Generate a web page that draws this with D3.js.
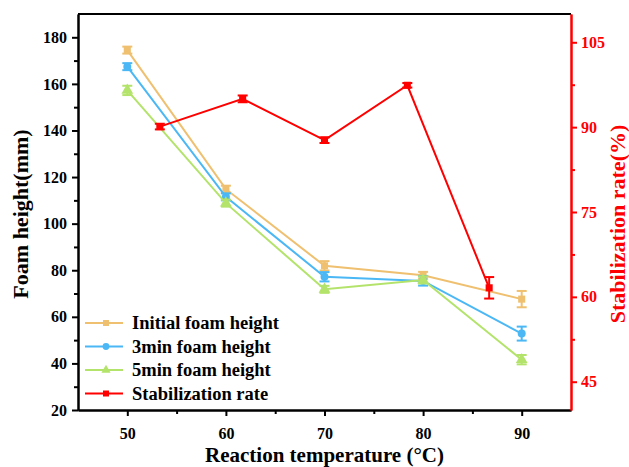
<!DOCTYPE html>
<html>
<head>
<meta charset="utf-8">
<script src="https://cdn.jsdelivr.net/npm/d3@7"></script>
<style>
  body { margin: 0; background: #fff; }
  svg text { font-family: "Liberation Serif", "Times New Roman", serif !important; font-weight: bold; }
</style>
</head>
<body>
<div class="chart"></div>
<script>
// data
const temps = [50, 60, 70, 80, 90];
const initialH = [174.5, 114.8, 81.9, 77.8, 67.6];
const initialErr = [1.5, 1.5, 2, 1.5, 3.5];
const min3H = [167.4, 111.5, 77.2, 75.4, 52.8];
const min3Err = [1.5, 1.5, 2, 2, 3];
const min5H = [157.2, 108.8, 71.8, 75.8, 41.6];
const min5Err = [2, 1.5, 1.5, 1.5, 2];
const stabX = [53.3, 61.7, 70, 78.4, 86.7];
const stabRate = [90.1, 95.0, 87.7, 97.4, 61.6];
const stabErr = [0.5, 0.6, 0.5, 0.4, 1.9];
const leftTicks = [20, 40, 60, 80, 100, 120, 140, 160, 180];
const rightTicks = [45, 60, 75, 90, 105];

const W = 629, H = 467;
const margin = {top: 14, right: 58, bottom: 57, left: 78};
const width = W - margin.left - margin.right,
      height = H - margin.top - margin.bottom;

const svg = d3.select(".chart").append("svg")
    .attr("width", W).attr("height", H)
    .attr("font-family", "Liberation Serif, serif");
const g = svg.append("g")
    .attr("transform", `translate(${margin.left},${margin.top})`);

const xScale = d3.scaleLinear().domain([45, 95]).range([0, width]);
const yScale = d3.scaleLinear().domain([20, 190]).range([height, 0]);
const y2Scale = d3.scaleLinear().domain([40, 110]).range([height, 0]);

const series = [
  {name: "Initial foam height", x: temps, y: initialH, err: initialErr, color: "#EFC070", shape: d3.symbolSquare, scale: yScale},
  {name: "3min foam height", x: temps, y: min3H, err: min3Err, color: "#4BB8F5", shape: d3.symbolCircle, scale: yScale},
  {name: "5min foam height", x: temps, y: min5H, err: min5Err, color: "#B3E36A", shape: d3.symbolTriangle, scale: yScale},
  {name: "Stabilization rate", x: stabX, y: stabRate, err: stabErr, color: "#FF0000", shape: d3.symbolSquare, scale: y2Scale}
];

// axes
const xAxis = d3.axisBottom(xScale).tickValues(temps).tickSize(6).tickSizeOuter(0);
const xMinor = d3.axisBottom(xScale).tickValues([55, 65, 75, 85]).tickSize(4).tickFormat("").tickSizeOuter(0);
const yAxis = d3.axisLeft(yScale).tickValues(leftTicks).tickSize(6).tickSizeOuter(0);
const yMinor = d3.axisLeft(yScale).tickValues(d3.range(30, 190, 20)).tickSize(4).tickFormat("").tickSizeOuter(0);
const y2Axis = d3.axisRight(y2Scale).tickValues(rightTicks).tickSize(6).tickSizeOuter(0);
const y2Minor = d3.axisRight(y2Scale).tickValues([52.5, 67.5, 82.5, 97.5]).tickSize(4).tickFormat("").tickSizeOuter(0);

function styleAxis(sel, color) {
  sel.attr("font-family", "Liberation Serif, serif").attr("font-size", 16);
  sel.select(".domain").attr("stroke", color).attr("stroke-width", 2);
  sel.selectAll(".tick line").attr("stroke", color).attr("stroke-width", 2);
  sel.selectAll(".tick text").attr("fill", color).attr("font-size", 16);
}

g.append("line").attr("x1", 0).attr("x2", width).attr("y1", 0).attr("y2", 0)
  .attr("stroke", "#000").attr("stroke-width", 2);

g.append("g").attr("transform", `translate(0,${height})`).call(xMinor).call(s => styleAxis(s, "#000"));
g.append("g").attr("transform", `translate(0,${height})`).call(xAxis).call(s => styleAxis(s, "#000"))
  .selectAll(".tick text").attr("dy", "1.25em");
g.append("g").call(yMinor).call(s => styleAxis(s, "#000"));
g.append("g").call(yAxis).call(s => styleAxis(s, "#000"))
  .selectAll(".tick text").attr("x", -11);
g.append("g").attr("transform", `translate(${width},0)`).call(y2Minor).call(s => styleAxis(s, "#FF0000"));
g.append("g").attr("transform", `translate(${width},0)`).call(y2Axis).call(s => styleAxis(s, "#FF0000"))
  .selectAll(".tick text").attr("x", 10);

// series
series.forEach(s => {
  const pts = s.x.map((x, i) => ({x, y: s.y[i], e: s.err[i]}));
  const sg = g.append("g");
  sg.append("path").datum(pts)
    .attr("fill", "none").attr("stroke", s.color).attr("stroke-width", 2)
    .attr("d", d3.line().x(d => xScale(d.x)).y(d => s.scale(d.y)));
  const eb = sg.selectAll(".eb").data(pts).enter().append("g")
    .attr("stroke", s.color).attr("stroke-width", 2);
  eb.append("line")
    .attr("x1", d => xScale(d.x)).attr("x2", d => xScale(d.x))
    .attr("y1", d => s.scale(d.y - d.e)).attr("y2", d => s.scale(d.y + d.e));
  [1, -1].forEach(sign => {
    eb.append("line")
      .attr("x1", d => xScale(d.x) - 5).attr("x2", d => xScale(d.x) + 5)
      .attr("y1", d => s.scale(d.y + sign * d.e)).attr("y2", d => s.scale(d.y + sign * d.e));
  });
  sg.selectAll(".pt").data(pts).enter().append("path")
    .attr("transform", d => `translate(${xScale(d.x)},${s.scale(d.y)})`)
    .attr("d", d3.symbol().type(s.shape).size(s.shape === d3.symbolTriangle ? 60 : 50))
    .attr("fill", s.color);
});

// legend
const legend = g.append("g").attr("transform", "translate(7,309)");
series.forEach((s, i) => {
  const row = legend.append("g").attr("transform", `translate(0,${i * 23.5})`);
  row.append("line").attr("x1", 0).attr("x2", 38).attr("stroke", s.color).attr("stroke-width", 2);
  row.append("path").attr("transform", "translate(21,0)")
    .attr("d", d3.symbol().type(s.shape).size(36)).attr("fill", s.color);
  row.append("text").attr("x", 47).attr("y", 0).attr("dy", "0.35em")
    .attr("font-size", 18.5).attr("fill", "#000").text(s.name);
});

// axis titles
svg.append("text")
  .attr("x", margin.left + width / 2).attr("y", 462)
  .attr("text-anchor", "middle").attr("font-size", 21).text("Reaction temperature (°C)");
svg.append("text")
  .attr("transform", `translate(28,${margin.top + height / 2 + 2}) rotate(-90)`)
  .attr("text-anchor", "middle").attr("font-size", 22).text("Foam height(mm)");
svg.append("text")
  .attr("transform", `translate(625,${margin.top + height / 2 + 12}) rotate(-90)`)
  .attr("text-anchor", "middle").attr("font-size", 22).attr("fill", "#FF0000").text("Stabilization rate(%)");
</script>
</body>
</html>
